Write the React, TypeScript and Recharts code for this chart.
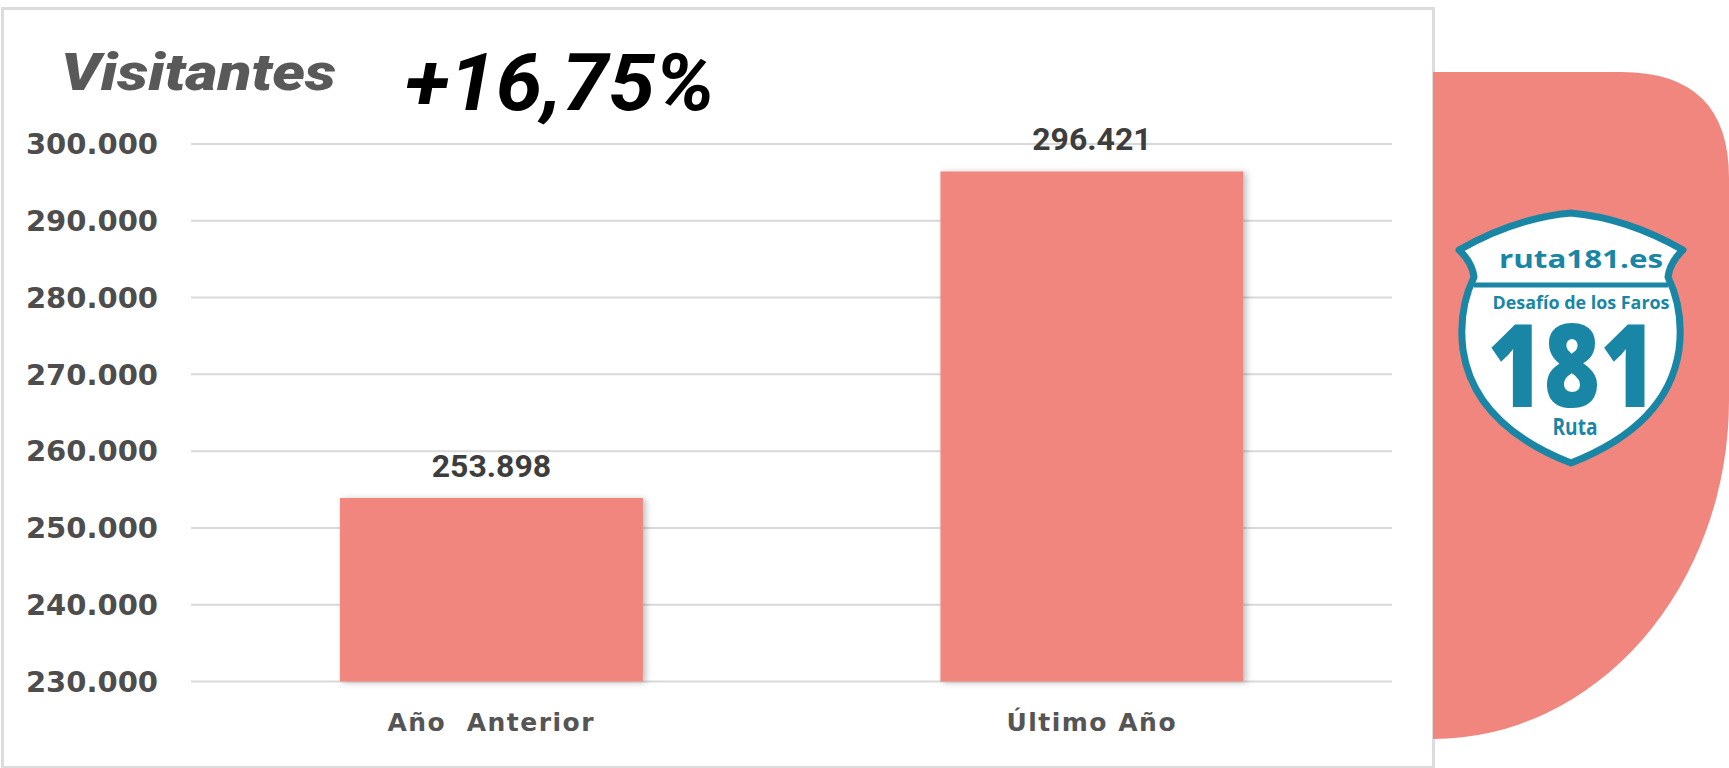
import React from 'react';
import { BarChart, Bar, XAxis, YAxis, CartesianGrid, LabelList } from 'recharts';

const categories = ['Año \u00A0Anterior', 'Último Año'];
const visitantes = [253898, 296421];
const yTicks = [230000, 240000, 250000, 260000, 270000, 280000, 290000, 300000];
const title = 'Visitantes';
const growth = '+16,75%';

const data = categories.map((name, i) => ({ name, visitantes: visitantes[i] }));

const fmt = (v: number) => String(v).replace(/\B(?=(\d{3})+(?!\d))/g, '.');

const TEAL = '#1a86a5';
const SALMON = '#f0867d';

const ShadowBar = (props: any) => {
  const { x, y, width, height, fill } = props;
  return <rect x={x} y={y} width={width} height={height} fill={fill} filter="url(#barShadow)" />;
};

const Decoration: React.FC = () => (
  <svg width={1729} height={768} style={{ position: 'absolute', left: 0, top: 0 }}>
    <path d="M1433,72 H1621 Q1729,72 1729,178 V400 A296 339 0 0 1 1433,739 Z" fill={SALMON} />
    <path
      d="M1459,250 Q1515,218 1571,213 Q1627,218 1683,250 Q1670,262 1668,277 Q1684,310 1679,350 Q1668,425 1571,463 Q1474,425 1463,350 Q1458,310 1474,277 Q1472,262 1459,250 Z"
      fill="#ffffff"
      stroke={TEAL}
      strokeWidth={7}
      strokeLinejoin="round"
    />
    <line x1={1474} y1={285} x2={1668} y2={285} stroke={TEAL} strokeWidth={5} />
    <g fill={TEAL} fontFamily="'Open Sans', sans-serif" fontWeight={700} textAnchor="middle">
      <text x={1581} y={268} fontSize={25} textLength={164} lengthAdjust="spacingAndGlyphs">ruta181.es</text>
      <text x={1581} y={309} fontSize={17} textLength={177} lengthAdjust="spacingAndGlyphs">Desafío de los Faros</text>
      <text x={1572} y={407} fontSize={115} fontWeight={800} textLength={169} lengthAdjust="spacingAndGlyphs">181</text>
      <text x={1575} y={435} fontSize={24} textLength={45} lengthAdjust="spacingAndGlyphs">Ruta</text>
    </g>
  </svg>
);

const Titles: React.FC = () => (
  <svg width={1729} height={768} style={{ position: 'absolute', left: 0, top: 0, pointerEvents: 'none' }}>
    <text x={61} y={90} fontFamily="Roboto, sans-serif" fontStyle="italic" fontWeight={900} fontSize={52} fill="#595959" textLength={275} lengthAdjust="spacingAndGlyphs">
      {title}
    </text>
    <text x={405} y={110} fontFamily="Roboto, sans-serif" fontStyle="italic" fontWeight={700} fontSize={80} fill="#000000" textLength={310} lengthAdjust="spacingAndGlyphs">
      {growth}
    </text>
  </svg>
);

const App: React.FC = () => {
  return (
    <div style={{ position: 'absolute', left: 0, top: 0, width: 1729, height: 768, background: '#ffffff', overflow: 'hidden' }}>
      <div style={{ position: 'absolute', left: 1, top: 7, width: 1428, height: 756, border: '3px solid #dcdcdc' }} />
      <Decoration />
      <div style={{ position: 'absolute', left: 0, top: 0 }}>
        <BarChart
          width={1729}
          height={768}
          data={data}
          margin={{ top: 144, right: 337, left: 21, bottom: 26.5 }}
          barCategoryGap="24.8%"
        >
          <defs>
            <filter id="barShadow" x="-10%" y="-10%" width="130%" height="130%">
              <feDropShadow dx={3} dy={1} stdDeviation={3} floodColor="#000000" floodOpacity={0.25} />
            </filter>
          </defs>
          <CartesianGrid vertical={false} stroke="#d9d9d9" strokeWidth={2} />
          <XAxis
            dataKey="name"
            axisLine={false}
            tickLine={false}
            tickSize={0}
            tickMargin={31.5}
            height={60}
            interval={0}
            tick={{ fill: '#555555', fontSize: 25, fontWeight: 700, fontFamily: "'DejaVu Sans', sans-serif", letterSpacing: 1.5 }}
          />
          <YAxis
            domain={[230000, 300000]}
            ticks={yTicks}
            tickFormatter={fmt}
            axisLine={false}
            tickLine={false}
            tickSize={0}
            tickMargin={33}
            width={170}
            tick={{ fill: '#4d4d4d', fontSize: 29, fontWeight: 700, fontFamily: "'DejaVu Sans', sans-serif" }}
          />
          <Bar dataKey="visitantes" fill={SALMON} shape={ShadowBar} isAnimationActive={false}>
            <LabelList
              dataKey="visitantes"
              position="top"
              offset={21}
              formatter={(v: any) => fmt(Number(v))}
              style={{ fill: '#3d3d3d', fontSize: 32, fontWeight: 700, fontFamily: 'Roboto, sans-serif' }}
            />
          </Bar>
        </BarChart>
      </div>
      <Titles />
    </div>
  );
};

export default App;
